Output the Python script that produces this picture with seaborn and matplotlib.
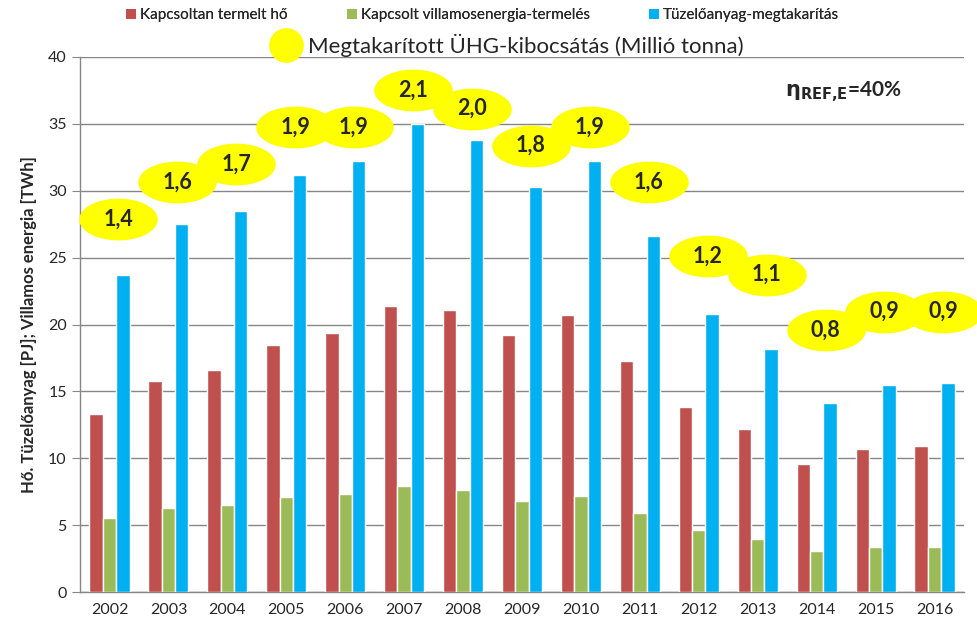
import numpy as np
import pandas as pd
import matplotlib
matplotlib.use('Agg')
import matplotlib.pyplot as plt
from matplotlib.path import Path
from matplotlib.lines import Line2D
import seaborn as sns

# adatok
years = ['2002', '2003', '2004', '2005', '2006', '2007', '2008', '2009',
         '2010', '2011', '2012', '2013', '2014', '2015', '2016']
heat = [13.3, 15.8, 16.6, 18.5, 19.4, 21.4, 21.1, 19.2, 20.7, 17.3, 13.8, 12.2, 9.6, 10.7, 10.9]
power = [5.5, 6.3, 6.5, 7.1, 7.3, 7.9, 7.6, 6.8, 7.2, 5.9, 4.6, 4.0, 3.1, 3.4, 3.4]
fuel_saving = [23.7, 27.5, 28.5, 31.2, 32.2, 35.0, 33.8, 30.3, 32.2, 26.6, 20.8, 18.2, 14.1, 15.5, 15.6]
ghg_saving = [1.4, 1.6, 1.7, 1.9, 1.9, 2.1, 2.0, 1.8, 1.9, 1.6, 1.2, 1.1, 0.8, 0.9, 0.9]

series_names = ['Kapcsoltan termelt hő', 'Kapcsolt villamosenergia-termelés', 'Tüzelőanyag-megtakarítás']
bubble_name = 'Megtakarított ÜHG-kibocsátás (Millió tonna)'
colors = ['#C0504D', '#9BBB59', '#00B0F0']
grid_col = '#868686'

sns.set_style('white')
plt.rcParams['font.family'] = ['Lato', 'DejaVu Sans']
plt.rcParams['mathtext.fontset'] = 'dejavusans'
plt.rcParams['mathtext.default'] = 'bf'

df = pd.DataFrame({
    'Év': years * 3,
    'Sorozat': [s for s in series_names for _ in years],
    'Érték': heat + power + fuel_saving,
})

fig = plt.figure(figsize=(9.77, 6.36), dpi=100)
ax = fig.add_axes([80 / 977, 1 - 592 / 636, 884 / 977, 535 / 636])

sns.barplot(data=df, x='Év', y='Érték', hue='Sorozat', hue_order=series_names,
            palette=colors, width=0.68, gap=0, saturation=1, legend=False, ax=ax, zorder=3)

ax.set_ylim(0, 40)
ax.set_xlim(-0.5, len(years) - 0.5)
ax.set_yticks(np.arange(0, 41, 5))
ax.yaxis.grid(True, color=grid_col, linewidth=1)
ax.set_axisbelow(True)
ax.set_xlabel('')
ax.set_ylabel('Hő. Tüzelőanyag [PJ]; Villamos energia [TWh]', fontsize=12,
              fontweight='bold', labelpad=8)
for side in ['top', 'right']:
    ax.spines[side].set_visible(False)
for side in ['left', 'bottom']:
    ax.spines[side].set_color(grid_col)
    ax.spines[side].set_linewidth(1)

# kategóriahatárok jelölése
ax.set_xticks(np.arange(-0.5, len(years), 1.0), minor=True)
ax.tick_params(axis='x', which='minor', length=6, color=grid_col, direction='out')
ax.tick_params(axis='x', which='major', length=0, labelsize=11.5, pad=8)
ax.tick_params(axis='y', length=6, color=grid_col, direction='out', labelsize=11.5, left=True)

# buborékok (másodlagos tengely)
t = np.linspace(0, 2 * np.pi, 60)
ellipse = Path(np.column_stack([1.88 * np.cos(t), np.sin(t)]), closed=True)
ax2 = ax.twinx()
ax2.set_ylim(-0.62, 2.28)
ax2.axis('off')
xb = np.arange(len(years)) + 0.15
ax2.scatter(xb, ghg_saving, marker=ellipse, s=3200, color='#FFFF00', linewidths=0,
            zorder=4, clip_on=False)
for x, v in zip(xb, ghg_saving):
    ax2.text(x, v, f'{v:.1f}'.replace('.', ','), ha='center', va='center',
             fontsize=15.5, fontweight='bold', zorder=5)

fig.text(785 / 977, 1 - 92 / 636, r'$\eta_{REF{,}E}$=40%', fontsize=15,
         fontweight='bold', va='center', ha='left')

# jelmagyarázat
handles = [Line2D([], [], marker='s', linestyle='none', markersize=7,
                  markerfacecolor=c, markeredgewidth=0) for c in colors]
leg1 = fig.legend(handles, series_names, loc='center', bbox_to_anchor=(0.494, 1 - 15 / 636),
                  ncol=3, frameon=False, fontsize=11, handlelength=0.6, handletextpad=0.3,
                  columnspacing=3.9)
h2 = Line2D([], [], marker='o', linestyle='none', markersize=25,
            markerfacecolor='#FFFF00', markeredgewidth=0)
fig.legend([h2], [bubble_name], loc='center', bbox_to_anchor=(0.52, 1 - 45 / 636),
           frameon=False, fontsize=16, handlelength=1.2, handletextpad=0.4)
fig.add_artist(leg1)

fig.savefig('out.png', dpi=100)
